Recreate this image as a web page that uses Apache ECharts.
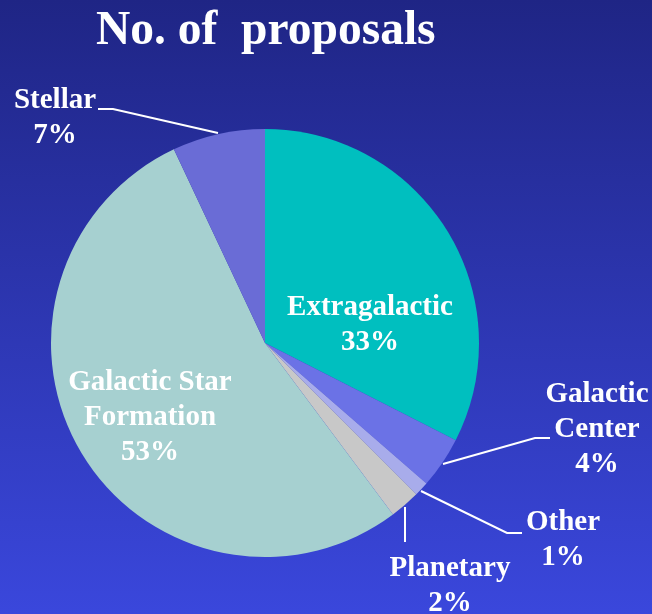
<!DOCTYPE html>
<html><head><meta charset="utf-8">
<script src="https://cdn.jsdelivr.net/npm/echarts@6/dist/echarts.min.js"></script>
<style>html,body{margin:0;padding:0;}#c{width:652px;height:614px;}</style>
</head><body><div id="c"></div>
<script>
var categories = ['Extragalactic','Galactic\nCenter','Other','Planetary','Galactic Star\nFormation','Stellar'];
var values = [32.5, 3.9, 1.1, 2.3, 53.2, 7.0];
var colors = ['#00bfbf','#6b72e6','#a8aceb','#c8c8c8','#a6d0d0','#6a6cd6'];
var titleText = 'No. of  proposals';

// label anchor placements (x, y of label text centre) and leader line points
var labelPlaces = [
  {x: 370, y: 325, line: null},
  {x: 597, y: 430, line: [[443,464],[535,438],[550,438]]},
  {x: 563, y: 540, line: [[421,491],[507,533],[522,533]]},
  {x: 450, y: 586, line: [[405,507],[405,542],[405,542]]},
  {x: 150, y: 418, line: null},
  {x: 55, y: 118, line: [[218,133],[113,109],[98,109]]}
];

var chart = echarts.init(document.getElementById('c'));
var font = '"Liberation Serif","Times New Roman",serif';
chart.setOption({
  backgroundColor: new echarts.graphic.LinearGradient(0,0,0,1,[{offset:0,color:'#1f2585'},{offset:1,color:'#3a47dc'}]),
  title: {text: titleText, left: 91, top: 3, textStyle:{color:'#ffffff', fontFamily: font, fontWeight:'bold', fontSize:47.5}},
  series: [{
    type: 'pie',
    center: [265, 343],
    radius: 214,
    startAngle: 90,
    clockwise: true,
    avoidLabelOverlap: false,
    percentPrecision: 0,
    animation: false,
    data: categories.map(function(c,i){
      var d = {name:c, value:values[i], itemStyle:{color:colors[i]}};
      if (!labelPlaces[i].line) d.labelLine = {show:false};
      return d;
    }),
    itemStyle: {borderWidth: 0},
    label: {
      show: true,
      formatter: '{b}\n{d}%',
      color: '#ffffff',
      fontFamily: font,
      fontWeight: 'bold',
      fontSize: 29,
      lineHeight: 35,
      align: 'center'
    },
    labelLine: {show: true, lineStyle:{color:'#ffffff', width:2}, length: 10, length2: 10},
    labelLayout: function(p){
      var lp = labelPlaces[p.dataIndex];
      var r = {x: lp.x, y: lp.y, align: 'center', verticalAlign: 'middle'};
      if (lp.line) r.labelLinePoints = lp.line;
      return r;
    }
  }]
});
</script>
</body></html>
